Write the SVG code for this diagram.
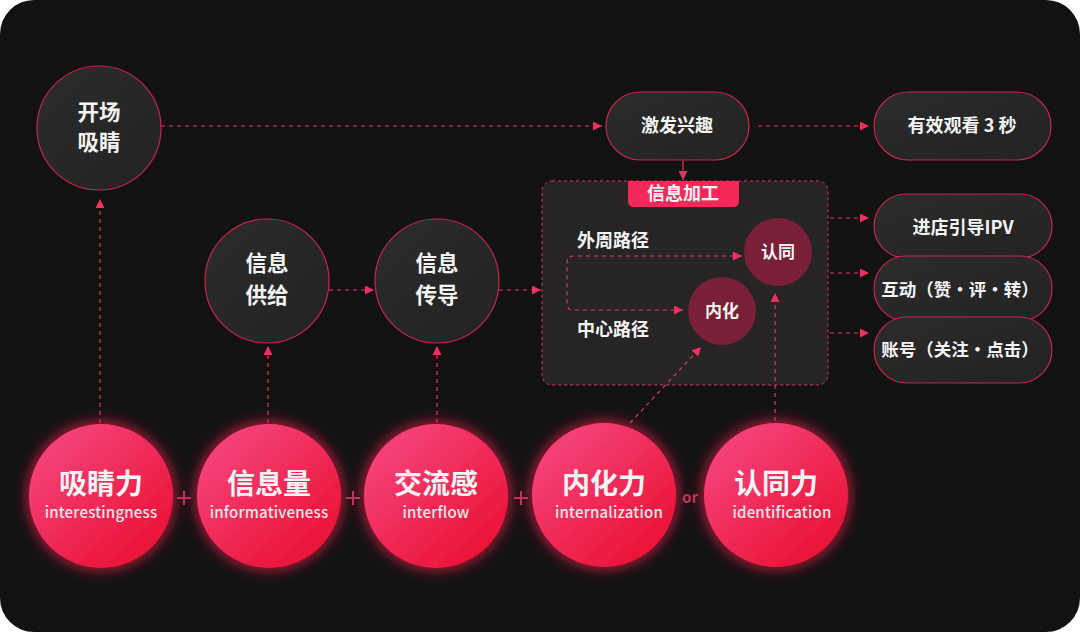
<svg xmlns="http://www.w3.org/2000/svg" width="1080" height="632" viewBox="0 0 1080 632">
<style>
.t{font-family:"Noto Sans CJK SC","Noto Sans",sans-serif;font-weight:700;fill:#f4f4f4;text-anchor:middle}
.tl{font-family:"Noto Sans CJK SC","Noto Sans",sans-serif;font-weight:700;fill:#f4f4f4}
.en{font-family:"Noto Sans CJK SC","Noto Sans",sans-serif;font-weight:500;fill:#fbe6ea;text-anchor:middle;font-size:15px;letter-spacing:0.2px}
.dark{fill:url(#gDark);stroke:#c8244e;stroke-width:1.2}
.big{fill:url(#gRed);filter:url(#glow)}
.dash{fill:none;stroke:#e8325e;stroke-width:1.2;stroke-dasharray:4 4;marker-end:url(#ah)}
.sym{stroke:#c8305a;stroke-width:2;fill:none}
</style>
<defs>
<marker id="ah" markerWidth="9" markerHeight="9" refX="9" refY="4.5" orient="auto-start-reverse" markerUnits="userSpaceOnUse">
<path d="M0,0 L9,4.5 L0,9 z" fill="#f0305f"/>
</marker>
<linearGradient id="gDark" x1="0" y1="0" x2="1" y2="1">
<stop offset="0" stop-color="#2c2c2c"/>
<stop offset="1" stop-color="#222222"/>
</linearGradient>
<linearGradient id="gRed" x1="0.15" y1="0.1" x2="0.85" y2="0.9">
<stop offset="0" stop-color="#f5437a"/>
<stop offset="1" stop-color="#ea1235"/>
</linearGradient>
<filter id="glow" x="-35%" y="-35%" width="170%" height="170%">
<feDropShadow dx="0" dy="0" stdDeviation="8" flood-color="#ff1f4d" flood-opacity="0.9"/>
</filter>
</defs>
<rect x="0" y="0" width="1080" height="632" fill="#ffffff"/>
<rect x="0" y="0" width="1080" height="632" rx="34" fill="#121212"/>

<g id="box-process">
<rect x="542" y="181" width="286" height="204" rx="10" fill="#262425" stroke="#e0335a" stroke-width="1" stroke-dasharray="3 3"/>
<path d="M628,181 H739 V201 Q739,207 733,207 H634 Q628,207 628,201 Z" fill="#f5285a"/>
<text class="t" x="683" y="200" font-size="18">信息加工</text>
<text class="tl" x="577" y="247" font-size="18">外周路径</text>
<text class="tl" x="577" y="336" font-size="18">中心路径</text>
</g>

<g id="connectors">
<line class="dash" x1="161" y1="126" x2="602" y2="126"/>
<line class="dash" x1="758" y1="126" x2="869" y2="126"/>
<line x1="683" y1="161" x2="683" y2="180" stroke="#e8325e" stroke-width="1.2" marker-end="url(#ah)"/>
<line class="dash" x1="329" y1="290" x2="374" y2="290"/>
<line class="dash" x1="499" y1="290" x2="541" y2="290"/>
<line class="dash" x1="830" y1="218" x2="869" y2="218"/>
<line class="dash" x1="830" y1="273" x2="869" y2="273"/>
<line class="dash" x1="830" y1="333" x2="869" y2="333"/>
<path class="dash" d="M683,310 H573 Q567,310 567,304 V262 Q567,256 573,256 H742" style="marker-start:url(#ah)"/>
<line class="dash" x1="630" y1="423" x2="701" y2="347"/>
<line class="dash" x1="775" y1="421" x2="775" y2="293"/>
<line class="dash" x1="100" y1="423" x2="100" y2="199"/>
<line class="dash" x1="268" y1="423" x2="268" y2="346"/>
<line class="dash" x1="437" y1="423" x2="437" y2="346"/>
</g>

<g id="node-kaichang">
<circle class="dark" cx="99" cy="128" r="62"/>
<text class="t" x="99" y="120" font-size="21.5">开场</text>
<text class="t" x="99" y="150" font-size="21.5">吸睛</text>
</g>
<g id="node-jifa">
<rect class="dark" x="606" y="92" width="143" height="68" rx="34"/>
<text class="t" x="677" y="132" font-size="18">激发兴趣</text>
</g>
<g id="node-youxiao">
<rect class="dark" x="874" y="92" width="177" height="68" rx="34"/>
<text class="t" x="962" y="132" font-size="18">有效观看 3 秒</text>
</g>
<g id="node-gongji">
<circle class="dark" cx="267" cy="281" r="62"/>
<text class="t" x="267" y="271" font-size="21.5">信息</text>
<text class="t" x="267" y="303" font-size="21.5">供给</text>
</g>
<g id="node-chuandao">
<circle class="dark" cx="437" cy="281" r="62"/>
<text class="t" x="437" y="271" font-size="21.5">信息</text>
<text class="t" x="437" y="303" font-size="21.5">传导</text>
</g>
<g id="node-rentong">
<circle cx="778" cy="252" r="34" fill="#7a1f38"/>
<text class="t" x="778" y="258" font-size="17">认同</text>
</g>
<g id="node-neihua">
<circle cx="722" cy="311" r="34" fill="#7a1f38"/>
<text class="t" x="722" y="317" font-size="17">内化</text>
</g>
<g id="node-ipv">
<rect class="dark" x="874" y="194" width="178" height="64" rx="32"/>
<text class="t" x="963" y="234" font-size="18">进店引导IPV</text>
</g>
<g id="node-hudong">
<rect class="dark" x="874" y="256" width="178" height="65" rx="32"/>
<text class="t" x="960" y="296" font-size="17.5">互动（赞·评·转）</text>
</g>
<g id="node-zhanghao">
<rect class="dark" x="874" y="317" width="178" height="66" rx="33"/>
<text class="t" x="960" y="356" font-size="17.5">账号（关注·点击）</text>
</g>

<g id="node-xijingli">
<circle class="big" cx="101" cy="496" r="72"/>
<text class="t" x="101" y="494" font-size="28">吸睛力</text>
<text class="en" x="101" y="518">interestingness</text>
</g>
<g id="node-xinxiliang">
<circle class="big" cx="269" cy="496" r="72"/>
<text class="t" x="269" y="494" font-size="28">信息量</text>
<text class="en" x="269" y="518">informativeness</text>
</g>
<g id="node-jiaoliugan">
<circle class="big" cx="436" cy="496" r="72"/>
<text class="t" x="436" y="494" font-size="28">交流感</text>
<text class="en" x="436" y="518">interflow</text>
</g>
<g id="node-neihuali">
<circle class="big" cx="604" cy="495" r="72"/>
<text class="t" x="604" y="494" font-size="28">内化力</text>
<text class="en" x="609" y="518">internalization</text>
</g>
<g id="node-rentongli">
<circle class="big" cx="776" cy="495" r="72"/>
<text class="t" x="776" y="494" font-size="28">认同力</text>
<text class="en" x="782" y="518">identification</text>
</g>

<g id="operators">
<path class="sym" d="M177,498 H191 M184,491 V505"/>
<path class="sym" d="M346,498 H360 M353,491 V505"/>
<path class="sym" d="M514,498 H528 M521,491 V505"/>
<text x="690" y="503" font-family="Noto Sans CJK SC, Noto Sans, sans-serif" font-weight="700" font-size="15" fill="#c8305a" text-anchor="middle">or</text>
</g>
</svg>
